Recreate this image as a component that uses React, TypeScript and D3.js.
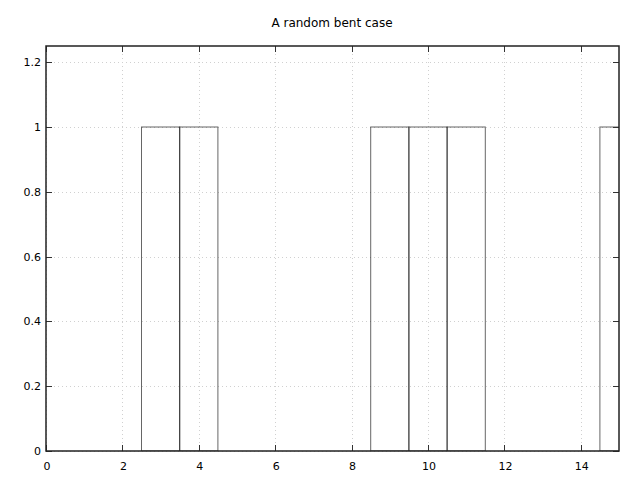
import React from "react";
import * as d3 from "d3";

const xValues = [0, 1, 2, 3, 4, 5, 6, 7, 8, 9, 10, 11, 12, 13, 14, 15];
const yValues = [0, 0, 0, 1, 1, 0, 0, 0, 0, 1, 1, 1, 0, 0, 0, 1];
const xTicks = [0, 2, 4, 6, 8, 10, 12, 14];
const yTicks = [0, 0.2, 0.4, 0.6, 0.8, 1, 1.2];
const title = "A random bent case";

const W = 640, H = 480;
const M = { left: 46, right: 21, top: 46, bottom: 29 };

export default function App() {
  const x = d3.scaleLinear().domain([0, 15]).range([M.left, W - M.right]);
  const y = d3.scaleLinear().domain([0, 1.25]).range([H - M.bottom, M.top]);
  const font = "'DejaVu Sans', sans-serif";
  const x0 = x(0), x1 = x(15), y0 = y(0), y1 = y(1.25);
  return (
    <svg width={W} height={H} style={{ position: "fixed", left: 0, top: 0, background: "#fff" }}>
      <defs>
        <clipPath id="plot">
          <rect x={x0} y={y1} width={x1 - x0} height={y0 - y1} />
        </clipPath>
      </defs>
      <text x={332} y={27} textAnchor="middle" fontFamily={font} fontSize={12}>{title}</text>
      {xTicks.map((t) => (
        <line key={"gx" + t} x1={Math.round(x(t)) + 0.5} x2={Math.round(x(t)) + 0.5} y1={y0} y2={y1}
          stroke="#d0d0d0" strokeWidth={1} strokeDasharray="1,3" />
      ))}
      {yTicks.map((t) => (
        <line key={"gy" + t} y1={Math.round(y(t)) + 0.5} y2={Math.round(y(t)) + 0.5} x1={x0} x2={x1}
          stroke="#d0d0d0" strokeWidth={1} strokeDasharray="1,3" />
      ))}
      <g clipPath="url(#plot)">
        {xValues.map((v, i) => (
          <rect key={"b" + i} x={x(v - 0.5)} y={y(yValues[i])} width={x(v + 0.5) - x(v - 0.5)}
            height={y(0) - y(yValues[i])} fill="none" stroke="#000" strokeOpacity={0.6} strokeWidth={1} />
        ))}
      </g>
      {xTicks.map((t) => (
        <g key={"tx" + t}>
          <line x1={Math.round(x(t)) + 0.5} x2={Math.round(x(t)) + 0.5} y1={y0} y2={y0 - 6} stroke="#333" />
          <line x1={Math.round(x(t)) + 0.5} x2={Math.round(x(t)) + 0.5} y1={y1} y2={y1 + 6} stroke="#333" />
          <text x={x(t) + 1} y={y0 + 19} textAnchor="middle" fontFamily={font} fontSize={11}>{t}</text>
        </g>
      ))}
      {yTicks.map((t) => (
        <g key={"ty" + t}>
          <line y1={Math.round(y(t)) + 0.5} y2={Math.round(y(t)) + 0.5} x1={x0} x2={x0 + 6} stroke="#333" />
          <line y1={Math.round(y(t)) + 0.5} y2={Math.round(y(t)) + 0.5} x1={x1} x2={x1 - 6} stroke="#333" />
          <text x={x0 - 5} y={y(t) + 4} textAnchor="end" fontFamily={font} fontSize={11}>{d3.format("~g")(t)}</text>
        </g>
      ))}
      <rect x={x0} y={y1} width={x1 - x0} height={y0 - y1} fill="none" stroke="#222" strokeWidth={1.5} />
    </svg>
  );
}
